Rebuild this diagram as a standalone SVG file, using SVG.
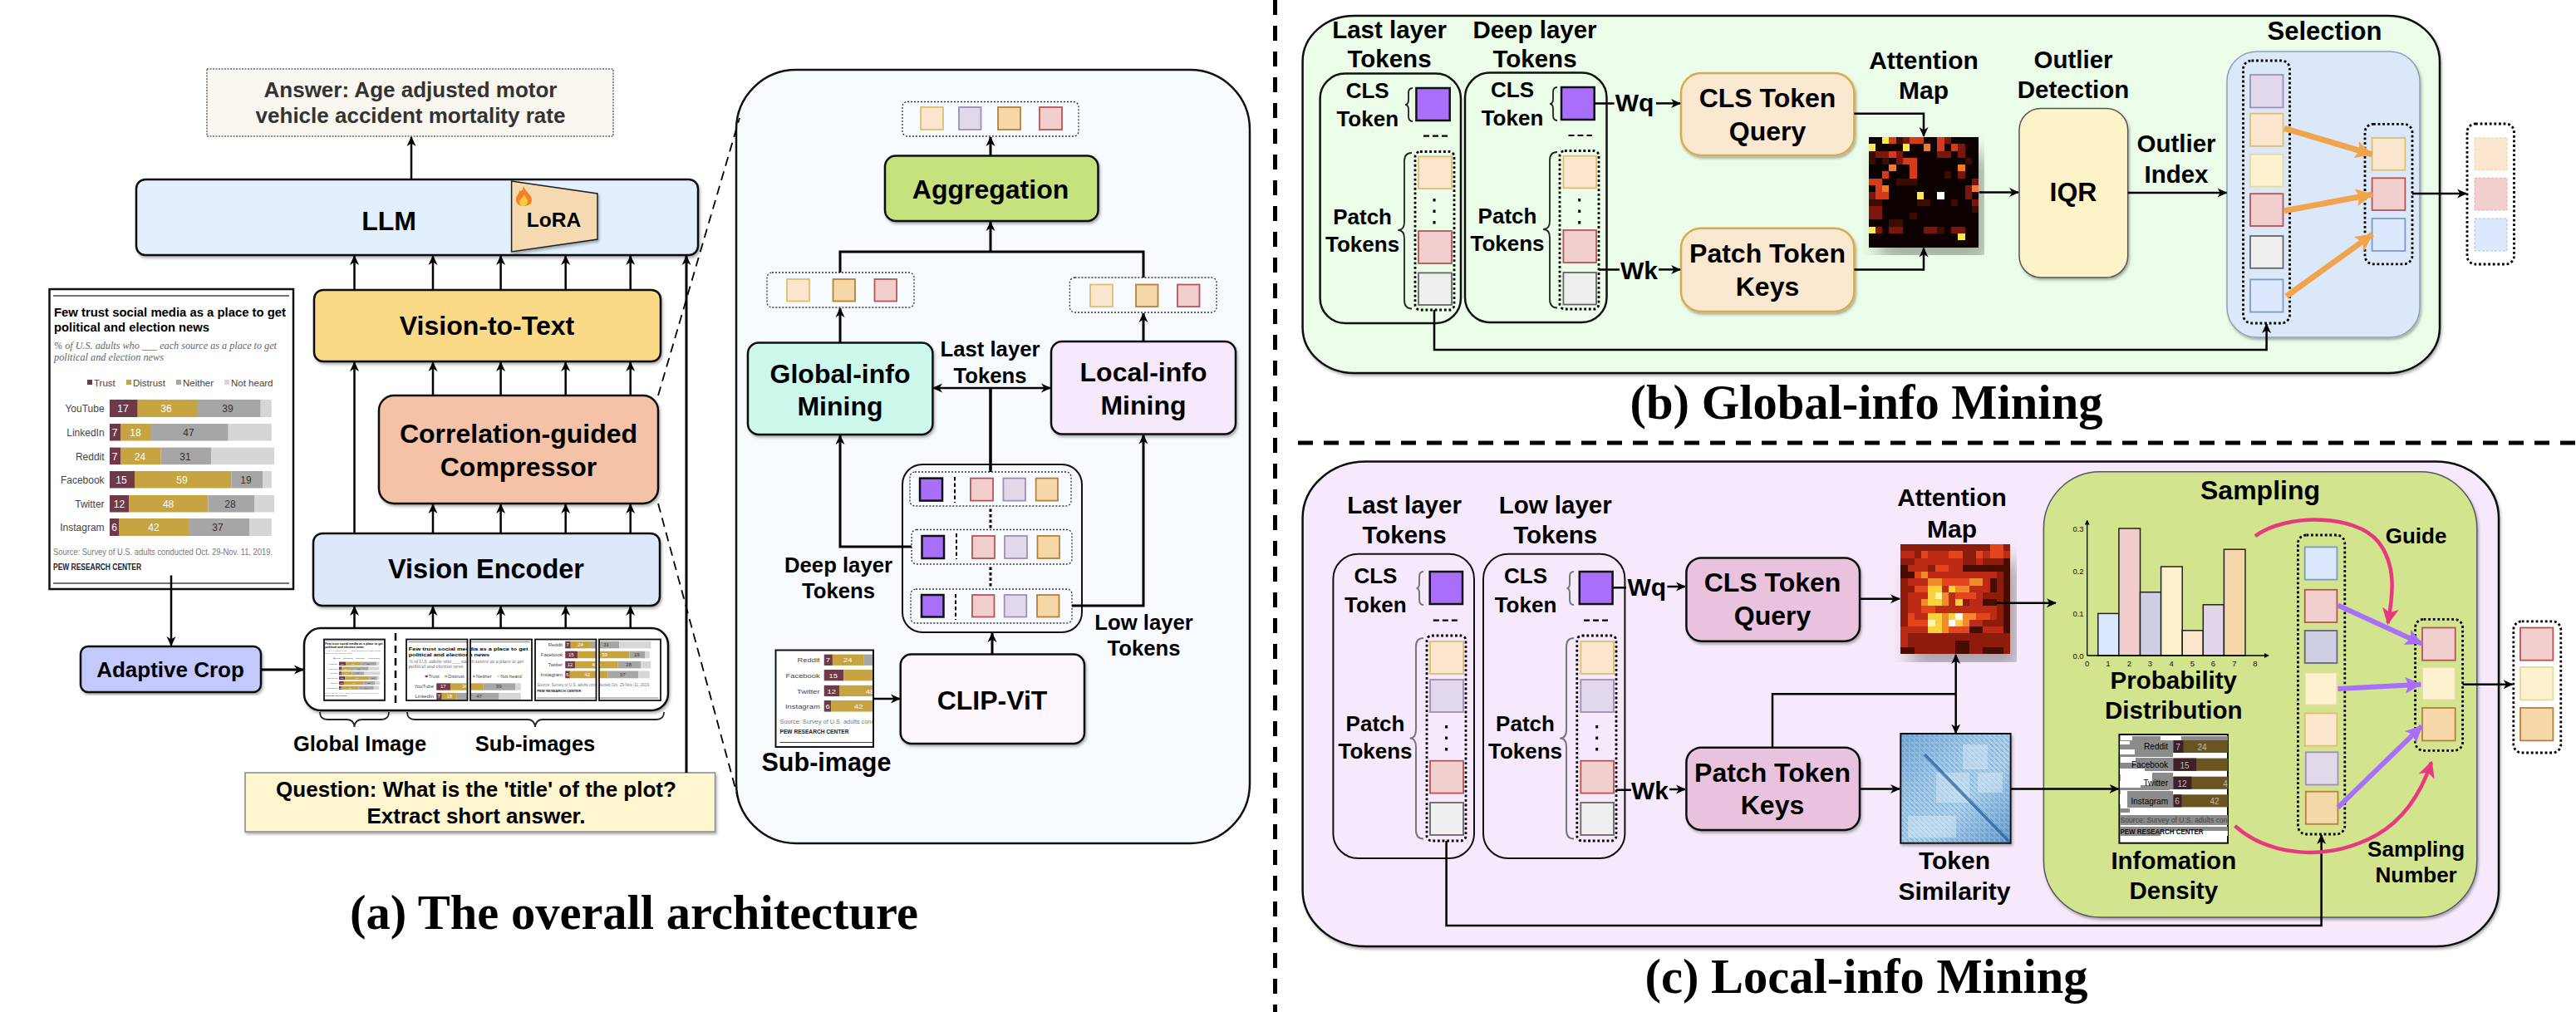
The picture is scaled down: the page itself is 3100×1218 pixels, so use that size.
<svg xmlns="http://www.w3.org/2000/svg" width="3100" height="1218" viewBox="0 0 3100 1218">
<style>
text{font-family:"Liberation Sans",Arial,sans-serif;font-weight:700;fill:#000;text-anchor:middle}
.s{filter:url(#sh)}
.box{stroke:#111;stroke-width:2.5}
.f24{font-size:24.5px}.f25{font-size:25.7px}.f26{font-size:26px}.f28{font-size:29.5px}.f29{font-size:29.5px}.f30{font-size:30px}.f31{font-size:32px}.f32{font-size:32px}
.cap{font-family:"Liberation Serif","Times New Roman",serif;font-size:58.5px}
.o{fill:#fbe7cf;stroke:#e3bd6c;stroke-width:1.8}.y{fill:#fdf2cf;stroke:#e8d9a0;stroke-width:1.8}.p{fill:#f2cfcf;stroke:#b85450;stroke-width:1.8}.l{fill:#e1d9ea;stroke:#9f8dbd;stroke-width:1.8}.t{fill:#f5d7a8;stroke:#b5813a;stroke-width:1.8}.g{fill:#eee;stroke:#666;stroke-width:1.8}.bl{fill:#dce8fb;stroke:#7f9ac9;stroke-width:1.8}.la{fill:#cfcfe3;stroke:#667;stroke-width:1.8}
.v{fill:#a96ffb;stroke:#111;stroke-width:2.5}
.dt{fill:none;stroke:#000;stroke-width:2.8;stroke-dasharray:2.8 2.8}
.dl{fill:none;stroke:#333;stroke-width:1.3;stroke-dasharray:2 2}
.br{fill:none;stroke:#222;stroke-width:1.8}
.brg{fill:none;stroke:#777;stroke-width:2}
.c{fill:none;stroke:#000;stroke-width:2.5}
.a{fill:none;stroke:#000;stroke-width:2.5;marker-end:url(#ar)}
.a3{fill:none;stroke:#000;stroke-width:3;marker-end:url(#ar)}
.cd{font-weight:400;font-size:12px;fill:#444;text-anchor:end}
.vw{font-weight:400;font-size:12px;fill:#fff}
.vd{font-weight:400;font-size:12px;fill:#333}
.lg{font-weight:400;font-size:11.5px;fill:#444;text-anchor:start}
.tk{font-size:9.5px;font-weight:400;fill:#111}
.im{stroke:#111;stroke-width:2.5;fill:#fff}
</style>
<defs>
<filter id="sh" x="-5%" y="-5%" width="110%" height="112%"><feDropShadow dx="1.5" dy="2.5" stdDeviation="1.5" flood-color="#000" flood-opacity=".3"/></filter>
<marker id="ar" viewBox="0 0 12 12" refX="11" refY="6" markerWidth="12" markerHeight="12" markerUnits="userSpaceOnUse" orient="auto-start-reverse"><path d="M0 .5L12 6L0 11.5L3.5 6z" fill="#000"/></marker>
<marker id="as" viewBox="0 0 6 6" refX="5" refY="3" markerWidth="6" markerHeight="6" markerUnits="userSpaceOnUse" orient="auto"><path d="M0 0L6 3L0 6z" fill="#000"/></marker>
<marker id="ao" viewBox="0 0 20 20" refX="19" refY="10" markerWidth="21" markerHeight="21" markerUnits="userSpaceOnUse" orient="auto"><path d="M0 0L20 10L0 20L4 10z" fill="#f0a44c"/></marker>
<marker id="ap" viewBox="0 0 20 20" refX="19" refY="10" markerWidth="20" markerHeight="20" markerUnits="userSpaceOnUse" orient="auto"><path d="M0 0L20 10L0 20L4 10z" fill="#a86ffb"/></marker>
<marker id="ak" viewBox="0 0 20 20" refX="18" refY="10" markerWidth="20" markerHeight="20" markerUnits="userSpaceOnUse" orient="auto"><path d="M0 0L20 10L0 20L5 10z" fill="#e6397f"/></marker>
<linearGradient id="simg" x1="0" y1="0" x2="1" y2="1"><stop offset="0" stop-color="#6fa2d0"/><stop offset=".35" stop-color="#9cc3e2"/><stop offset=".6" stop-color="#a9cde7"/><stop offset="1" stop-color="#5e95c8"/></linearGradient>
<pattern id="hatch" width="6" height="6" patternUnits="userSpaceOnUse"><rect width="6" height="6" fill="none" stroke="#e6f2fb" stroke-width=".5" opacity=".6"/><path d="M0 0L6 6M-3 3L3 9M3 -3L9 3" stroke="#2f6fad" stroke-width=".9" opacity=".45"/></pattern>
</defs>
<rect width="3100" height="1218" fill="#fff"/>

<g id="panel-detail"><rect x="886" y="84" width="618" height="931" rx="72" ry="72" fill="#f7fbff" stroke="#111" stroke-width="2.5"/></g>
<g id="panel-b"><rect class="s box" x="1567.6" y="19" width="1368.4" height="430" rx="62" ry="55" fill="#ebfde9"/></g>
<g id="panel-c"><rect class="s box" x="1567.6" y="555.6" width="1439.4" height="583.4" rx="76" ry="68" fill="#f6e9fb"/></g>

<g id="separators" fill="none" stroke="#000" stroke-width="5" stroke-dasharray="18 13"><path d="M1534.5 0V1218"/><path d="M1562 533H3100"/></g>

<!-- (a) -->
<g id="answer"><rect x="249" y="83" width="489" height="81" fill="#faf6f0" stroke="#666" stroke-width="1.5" stroke-dasharray="2 1.5"/><text x="494" y="117" style="fill:#333;font-size:26px">Answer: Age adjusted motor</text><text x="494" y="148" style="fill:#333;font-size:26px">vehicle accident mortality rate</text></g>
<g id="llm"><rect class="s box" x="164" y="216" width="676" height="91" rx="11" fill="#e2f0fd"/><text class="f32" x="468" y="277">LLM</text></g>
<g id="lora"><path class="s" d="M615.6 218L719 233V288L615.6 303z" fill="#f5d9b0" stroke="#222" stroke-width="1.5"/><text class="f24" x="666.5" y="272.5">LoRA</text>
<path d="M630 224C633 232 640 234 640 241C640 246 635 248 630 248C625 248 621 245 621 240C621 235 625 234 625 229C627 231 629 230 630 224z" fill="#f0822a"/><path d="M631 234C632 238 636 240 635 243C634 247 632 248 630 248C627 248 625 246 625 243C625 240 629 239 631 234z" fill="#fbc93c"/></g>
<g id="vision-to-text"><rect class="s box" x="378" y="349" width="417" height="86" rx="11" fill="#fad987"/><text class="f31" x="586" y="403">Vision-to-Text</text></g>
<g id="compressor"><rect class="s box" x="456" y="476" width="336" height="130" rx="18" fill="#f4c2a7"/><text class="f31" x="624" y="533">Correlation-guided</text><text class="f31" x="624" y="572.5">Compressor</text></g>
<g id="vision-encoder"><rect class="s box" x="377" y="642" width="417" height="87" rx="11" fill="#dde8fb"/><text x="585" y="696" style="font-size:32.5px">Vision Encoder</text></g>
<g id="adaptive-crop"><rect class="s box" x="97" y="778" width="217" height="55" rx="9" fill="#c3c8fd"/><text class="f26" x="205" y="814.5">Adaptive Crop</text></g>

<g id="chart"><rect x="59.5" y="348" width="293.5" height="361" fill="#fff" stroke="#111" stroke-width="2.5"/>
<g id="chart-content">
<path d="M64 356H348M64 702H348" stroke="#444" stroke-width="1.6"/>
<g style="text-anchor:start">
<text x="65" y="381" textLength="279" lengthAdjust="spacingAndGlyphs" style="font-size:14.5px;text-anchor:start">Few trust social media as a place to get</text>
<text x="65" y="399" textLength="187" lengthAdjust="spacingAndGlyphs" style="font-size:14.5px;text-anchor:start">political and election news</text>
<text x="65" y="420" textLength="268" lengthAdjust="spacingAndGlyphs" style="font-family:'Liberation Serif',serif;font-style:italic;font-weight:400;font-size:13.5px;fill:#666;text-anchor:start">% of U.S. adults who ___ each source as a place to get</text>
<text x="65" y="434" textLength="132" lengthAdjust="spacingAndGlyphs" style="font-family:'Liberation Serif',serif;font-style:italic;font-weight:400;font-size:13.5px;fill:#666;text-anchor:start">political and election news</text></g>
<rect x="105" y="457" width="6" height="6" fill="#6e3a48"/><text class="lg" x="113" y="465">Trust</text>
<rect x="152" y="457" width="6" height="6" fill="#c5a441"/><text class="lg" x="160" y="465">Distrust</text>
<rect x="212" y="457" width="6" height="6" fill="#a6a6a6"/><text class="lg" x="220" y="465">Neither</text>
<rect x="270" y="457" width="6" height="6" fill="#d6d6d6"/><text class="lg" x="278" y="465">Not heard</text>
<g fill="#6e3a48"><rect x="132" y="481" width="33.7" height="21"/><rect x="132" y="510" width="13" height="20.5"/><rect x="132" y="538.6" width="13" height="20.5"/><rect x="132" y="567" width="30" height="20.5"/><rect x="132" y="596" width="23.4" height="20.5"/><rect x="132" y="624" width="11" height="21"/></g>
<g fill="#c5a441"><rect x="165.7" y="481" width="71.3" height="21"/><rect x="145" y="510" width="36" height="20.5"/><rect x="145" y="538.6" width="48.4" height="20.5"/><rect x="162" y="567" width="116.5" height="20.5"/><rect x="155.4" y="596" width="94.9" height="20.5"/><rect x="143" y="624" width="84" height="21"/></g>
<g fill="#a6a6a6"><rect x="237" y="481" width="76.7" height="21"/><rect x="181" y="510" width="93.7" height="20.5"/><rect x="193.4" y="538.6" width="60.6" height="20.5"/><rect x="278.5" y="567" width="37.5" height="20.5"/><rect x="250.3" y="596" width="55.7" height="20.5"/><rect x="227" y="624" width="73" height="21"/></g>
<g fill="#d6d6d6"><rect x="313.7" y="481" width="13" height="21"/><rect x="274.7" y="510" width="52" height="20.5"/><rect x="254" y="538.6" width="76" height="20.5"/><rect x="316" y="567" width="10.7" height="20.5"/><rect x="306" y="596" width="24" height="20.5"/><rect x="300" y="624" width="26.7" height="21"/></g>
<text class="cd" x="125.6" y="496">YouTube</text><text class="cd" x="125.6" y="525">LinkedIn</text><text class="cd" x="125.6" y="553.5">Reddit</text><text class="cd" x="125.6" y="582">Facebook</text><text class="cd" x="125.6" y="611">Twitter</text><text class="cd" x="125.6" y="639">Instagram</text>
<text class="vw" x="148" y="496">17</text><text class="vw" x="200" y="496">36</text><text class="vd" x="274" y="496">39</text>
<text class="vw" x="138" y="525">7</text><text class="vw" x="163" y="525">18</text><text class="vd" x="227" y="525">47</text>
<text class="vw" x="138" y="553.5">7</text><text class="vw" x="168.5" y="553.5">24</text><text class="vd" x="223" y="553.5">31</text>
<text class="vw" x="146" y="582">15</text><text class="vw" x="219" y="582">59</text><text class="vd" x="296" y="582">19</text>
<text class="vw" x="143.5" y="611">12</text><text class="vw" x="202.6" y="611">48</text><text class="vd" x="277" y="611">28</text>
<text class="vw" x="137.5" y="639">6</text><text class="vw" x="185" y="639">42</text><text class="vd" x="262" y="639">37</text>
<text x="64" y="668" textLength="264" lengthAdjust="spacingAndGlyphs" style="font-weight:400;font-size:11.5px;fill:#777;text-anchor:start">Source: Survey of U.S. adults conducted Oct. 29-Nov. 11, 2019.</text>
<text x="64" y="686" textLength="106" lengthAdjust="spacingAndGlyphs" style="font-size:10.5px;fill:#222;text-anchor:start">PEW RESEARCH CENTER</text>
</g></g>

<g id="images"><rect class="s" x="366" y="756" width="438" height="99" rx="20" fill="#fff" stroke="#111" stroke-width="2.5"/>
<svg x="390" y="769.5" width="73" height="73.5" viewBox="59.5 348 293.5 361" preserveAspectRatio="none"><use href="#chart-content"/></svg><rect x="390" y="769.5" width="73" height="73.5" fill="none" stroke="#111" stroke-width="1.8"/>
<path d="M476 762V848" stroke="#000" stroke-width="2.5" stroke-dasharray="9 6"/>
<svg x="489" y="769.5" width="73.5" height="73.5" viewBox="59.5 348 147 185" preserveAspectRatio="none"><use href="#chart-content"/></svg><rect x="489" y="769.5" width="73.5" height="73.5" fill="none" stroke="#111" stroke-width="1.8"/>
<svg x="566" y="769.5" width="74" height="73.5" viewBox="206 348 147 185" preserveAspectRatio="none"><use href="#chart-content"/></svg><rect x="566" y="769.5" width="74" height="73.5" fill="none" stroke="#111" stroke-width="1.8"/>
<svg x="644" y="769.5" width="73.5" height="73.5" viewBox="59.5 533 147 176" preserveAspectRatio="none"><use href="#chart-content"/></svg><rect x="644" y="769.5" width="73.5" height="73.5" fill="none" stroke="#111" stroke-width="1.8"/>
<svg x="721" y="769.5" width="74" height="73.5" viewBox="206 533 147 176" preserveAspectRatio="none"><use href="#chart-content"/></svg><rect x="721" y="769.5" width="74" height="73.5" fill="none" stroke="#111" stroke-width="1.8"/>
<path class="br" d="M385 857Q385 866 394 866H417Q426 866 426.5 875Q427 866 436 866H459Q468 866 468 857"/>
<path class="br" d="M490 857Q490 866 499 866H635Q643 866 644 875Q645 866 653 866H790Q799 866 799 857"/>
<text x="433" y="904" style="font-size:25.5px">Global Image</text><text x="644" y="904" style="font-size:25.5px">Sub-images</text></g>
<g id="question"><rect class="s" x="295" y="930" width="565.6" height="71" fill="#fdf6cf" stroke="#888" stroke-width="1.5"/><text x="573" y="959" style="font-size:26px">Question: What is the 'title' of the plot?</text><text x="573" y="991" style="font-size:26px">Extract short answer.</text></g>
<text class="cap" x="763" y="1118">(a) The overall architecture</text>

<!-- detail -->
<g id="tokens-top"><rect class="dl" x="1086" y="122.5" width="212" height="41.5" rx="6"/><rect class="o" x="1108" y="129" width="27" height="27"/><rect class="l" x="1154" y="129" width="26.5" height="27"/><rect class="t" x="1201" y="129" width="27" height="27"/><rect class="p" x="1251" y="129" width="27" height="27"/></g>
<g id="aggregation"><rect class="s box" x="1065" y="187.5" width="256.5" height="78.5" rx="13" fill="#c5e17c"/><text class="f31" x="1192" y="239">Aggregation</text></g>
<g id="tokens-left"><rect class="dl" x="923" y="328" width="177" height="42" rx="6"/><rect class="o" x="947" y="336" width="27" height="26.5"/><rect class="t" x="1002.5" y="336" width="26.5" height="26.5"/><rect class="p" x="1052.5" y="336" width="26.5" height="26.5"/></g>
<g id="tokens-right"><rect class="dl" x="1287.4" y="334" width="176.6" height="42" rx="6"/><rect class="o" x="1312" y="342.5" width="27" height="26.5"/><rect class="t" x="1367" y="342.5" width="26.5" height="26.5"/><rect class="p" x="1417" y="342.5" width="26.5" height="26.5"/></g>
<g id="global-info"><rect class="s box" x="900" y="412.5" width="222.4" height="110.5" rx="13" fill="#cdf8ec"/><text class="f31" x="1011" y="460.6">Global-info</text><text class="f31" x="1011" y="500">Mining</text></g>
<g id="local-info"><rect class="s box" x="1265" y="411" width="222" height="111.5" rx="13" fill="#f5e9fb"/><text class="f31" x="1376" y="459">Local-info</text><text class="f31" x="1376" y="499">Mining</text></g>
<g id="last-label"><text class="f25" x="1191.5" y="429">Last layer</text><text class="f25" x="1191.5" y="460.6">Tokens</text></g>
<g id="layers"><rect x="1086" y="559" width="216" height="202" rx="24" fill="none" stroke="#111" stroke-width="2"/>
<rect class="dl" x="1095" y="568" width="194" height="41" rx="6"/><rect class="v" x="1107" y="575.6" width="27" height="27"/><path d="M1149 574V605M1151 642V673M1150 715V746" stroke="#000" stroke-width="2" stroke-dasharray="4.5 3"/><rect class="p" x="1168" y="575.6" width="27" height="27"/><rect class="l" x="1207.4" y="575.6" width="26.6" height="27"/><rect class="t" x="1246.6" y="575.6" width="26.4" height="27"/>
<rect class="dl" x="1097" y="637.5" width="193" height="41.5" rx="6"/><rect class="v" x="1109.5" y="645" width="26.5" height="27"/><rect class="p" x="1170" y="645" width="27" height="27"/><rect class="l" x="1209" y="645" width="27" height="27"/><rect class="t" x="1248.5" y="645" width="26.5" height="27"/>
<rect class="dl" x="1096" y="709" width="194" height="41" rx="6"/><rect class="v" x="1109" y="716" width="26.5" height="26.5"/><rect class="p" x="1170" y="716" width="26.5" height="26.5"/><rect class="l" x="1208.7" y="716" width="26.6" height="26.5"/><rect class="t" x="1248" y="716" width="26.5" height="26.5"/>
<path d="M1192 612.5V636M1192 682.5V706" stroke="#000" stroke-width="3" stroke-dasharray="3.5 3"/></g>
<g id="deep-label"><text class="f25" x="1009" y="689">Deep layer</text><text class="f25" x="1009" y="720">Tokens</text></g>
<g id="low-label"><text class="f25" x="1376.6" y="757.5">Low layer</text><text class="f25" x="1376.6" y="789">Tokens</text></g>
<g id="clip-vit"><rect class="s box" x="1083.7" y="787.5" width="221.3" height="107.5" rx="13" fill="#fdf7fd"/><text class="f31" x="1194" y="854">CLIP-ViT</text></g>
<g id="sub-image"><rect x="933.5" y="782.5" width="117.5" height="116.5" fill="#fff" stroke="#111" stroke-width="2"/><svg x="935" y="784" width="115" height="114" viewBox="59.5 533 147 176" preserveAspectRatio="none"><use href="#chart-content"/></svg><text x="994.5" y="927.5" style="font-size:30.5px">Sub-image</text></g>
<text class="cap" x="2246" y="504">(b) Global-info Mining</text>

<!-- (b) -->
<g id="b-last"><text class="f28" x="1672" y="46">Last layer</text><text class="f28" x="1672" y="81">Tokens</text>
<rect x="1588.6" y="88.6" width="169.4" height="300.4" rx="30" fill="none" stroke="#111" stroke-width="2.5"/>
<text class="f26" x="1645.7" y="117.8">CLS</text><text class="f26" x="1645.7" y="152">Token</text>
<rect class="v" x="1704.4" y="106" width="40.3" height="39"/><path class="br" d="M1700 106Q1695 106 1695 112V120Q1695 126 1691 126Q1695 126 1695 132V140Q1695 146 1700 146"/>
<path d="M1713 163.6H1742" stroke="#000" stroke-width="2.2" stroke-dasharray="7 4"/>
<rect class="dt" x="1703" y="182.5" width="47" height="190.5" rx="6"/>
<rect class="o" x="1707" y="188.4" width="40" height="38.6"/><path d="M1726 239V270" stroke="#000" stroke-width="3" stroke-dasharray="3.5 10"/><rect class="p" x="1707" y="278" width="40" height="39"/><rect class="g" x="1707" y="328.4" width="40" height="38.6"/>
<path class="br" d="M1699 184Q1690 184 1690 194V267Q1690 277 1682.4 277Q1690 277 1690 287V361Q1690 371.5 1699 371.5"/>
<text class="f26" x="1639.6" y="269.7">Patch</text><text class="f26" x="1639.6" y="302.5">Tokens</text></g>
<g id="b-deep"><text class="f28" x="1847" y="46">Deep layer</text><text class="f28" x="1847" y="81">Tokens</text>
<rect x="1763" y="87.6" width="170.5" height="300.4" rx="30" fill="none" stroke="#111" stroke-width="2.5"/>
<text class="f26" x="1820" y="117">CLS</text><text class="f26" x="1820" y="151">Token</text>
<rect class="v" x="1879" y="105" width="39.7" height="39"/><path class="br" d="M1874 105Q1869 105 1869 111V119Q1869 125 1865 125Q1869 125 1869 131V139Q1869 145 1874 145"/>
<path d="M1887.5 163H1916" stroke="#000" stroke-width="2.2" stroke-dasharray="7 4"/>
<rect class="dt" x="1877" y="181.5" width="47" height="190.5" rx="6"/>
<rect class="o" x="1881.4" y="187.7" width="39.6" height="38.6"/><path d="M1900.7 239V270" stroke="#000" stroke-width="3" stroke-dasharray="3.5 10"/><rect class="p" x="1881.4" y="277" width="39.6" height="39"/><rect class="g" x="1881.4" y="328" width="39.6" height="38.5"/>
<path class="br" d="M1874 183Q1865 183 1865 193V266Q1865 276 1857 276Q1865 276 1865 286V360Q1865 370.5 1874 370.5"/>
<text class="f26" x="1814" y="268.7">Patch</text><text class="f26" x="1814" y="302">Tokens</text></g>
<g id="b-wq"><text class="f30" x="1967" y="134.4">Wq</text></g><g id="b-wk"><text class="f30" x="1972.5" y="335.7">Wk</text></g>
<g id="b-cls-query"><rect class="s" x="2023" y="88" width="208.4" height="99" rx="24" fill="#fbe8d0" stroke="#d4ab53" stroke-width="2.5"/><text class="f32" x="2127" y="128.7">CLS Token</text><text class="f32" x="2127" y="168.5">Query</text></g>
<g id="b-patch-keys"><rect class="s" x="2023" y="274.7" width="208.4" height="100.3" rx="24" fill="#fbe8d0" stroke="#d4ab53" stroke-width="2.5"/><text class="f32" x="2127" y="315.8">Patch Token</text><text class="f32" x="2127" y="355.6">Keys</text></g>
<g id="b-attention"><text class="f30" x="2315" y="83">Attention</text><text class="f30" x="2315" y="118.8">Map</text>
<svg x="2248" y="165" width="133.6" height="132.6" viewBox="0 0 16 16" shape-rendering="crispEdges" class="s"><rect width="16" height="16" fill="#0d0000"/>
<path fill="#3a0806" d="M0 2h1v2h-1zM2 3h1v1h-1zM4 0h2v1h-2zM4 6h3v1h-3zM0 9h2v2h-2zM11 5h1v1h-1zM12 9h1v1h-1zM15 10h1v1h-1zM7 9h2v1h-2zM3 12h2v1h-2zM9 13h2v1h-2zM14 3h1v1h-1zM6 11h1v1h-1z"/>
<path fill="#7c170e" d="M0 10h2v2h-2zM1 13h1v1h-1zM3 13h2v1h-2zM8 13h2v1h-2zM1 2h2v1h-2zM4 2h1v2h-1zM13 1h1v2h-1zM10 2h2v1h-2zM13 5h1v1h-1zM15 6h1v1h-1zM14 7h1v2h-1zM15 9h1v1h-1zM12 13h2v1h-2zM5 0h1v1h-1zM11 0h1v1h-1zM0 8h1v1h-1z"/>
<path fill="#d43a1c" d="M3 0h1v1h-1zM6 0h2v1h-2zM10 0h1v2h-1zM3 2h1v1h-1zM5 3h2v1h-2zM6 4h1v2h-1zM0 6h2v1h-2zM1 7h1v2h-1zM2 8h1v1h-1zM2 5h1v1h-1zM12 1h1v1h-1z"/>
<path fill="#f0792a" d="M8 1h1v1h-1zM3 4h1v1h-1zM2 7h1v1h-1zM13 4h1v1h-1zM15 7h1v1h-1z"/>
<path fill="#ffe84a" d="M2 0h1v1h-1zM0 1h1v1h-1zM5 1h1v1h-1zM7 8h1v1h-1zM0 13h1v1h-1zM13 14h1v1h-1z"/>
<path fill="#fff" d="M10 8h1v1h-1z"/></svg></g>
<g id="b-outlier"><text class="f29" x="2495" y="82">Outlier</text><text class="f29" x="2495" y="118">Detection</text></g>
<g id="b-iqr"><rect class="s" x="2430" y="130.4" width="130.7" height="203.6" rx="26" fill="#fdf3c8" stroke="#555" stroke-width="1.5"/><text class="f32" x="2495" y="242">IQR</text></g>
<g id="b-index"><text class="f29" x="2619" y="183">Outlier</text><text class="f29" x="2619" y="220">Index</text></g>
<g id="b-selection"><text x="2797.5" y="48" style="font-size:31px">Selection</text><rect class="s" x="2680" y="62" width="232" height="344" rx="36" fill="#dbe8fa" stroke="#8aa0b8" stroke-width="1.5"/>
<rect class="dt" x="2699.5" y="73" width="56" height="316" rx="10"/>
<rect class="l" x="2708" y="90" width="39.5" height="39.4"/><rect class="o" x="2708" y="136.7" width="39.5" height="39.1"/><rect class="y" x="2708" y="185.8" width="39.5" height="38.8"/><rect class="p" x="2708" y="233.2" width="39.5" height="38.8"/><rect class="g" x="2708" y="284" width="39.5" height="38.8"/><rect class="bl" x="2708" y="336.4" width="39.5" height="39.1"/>
<rect class="dt" x="2846" y="149.3" width="57" height="168.5" rx="10"/>
<rect class="o" x="2854.6" y="165.9" width="39.8" height="38.8"/><rect class="p" x="2854.6" y="214.3" width="39.8" height="38.7"/><rect class="bl" x="2854.6" y="263" width="39.8" height="39"/></g>
<g id="b-output"><rect class="dt" x="2969" y="149" width="56.5" height="169" rx="10"/>
<rect x="2978" y="165.9" width="39" height="38.8" fill="#fbe7cf" stroke="#ecd09a" stroke-dasharray="3 2"/><rect x="2978" y="214.3" width="39" height="38.7" fill="#f2cfcf" stroke="#e4a8a8" stroke-dasharray="3 2"/><rect x="2978" y="263" width="39" height="39" fill="#dce8fb" stroke="#a9c0e6" stroke-dasharray="3 2"/></g>
<text class="cap" x="2246" y="1195">(c) Local-info Mining</text>

<!-- (c) -->
<g id="c-last"><text class="f28" x="1690" y="617.8">Last layer</text><text class="f28" x="1690" y="653.7">Tokens</text>
<rect x="1604.4" y="666.7" width="169.6" height="366.3" rx="30" fill="none" stroke="#111" stroke-width="2"/>
<text class="f26" x="1655.4" y="702">CLS</text><text class="f26" x="1655.4" y="736.7">Token</text>
<rect class="v" x="1720.7" y="688" width="39.3" height="39"/><path class="brg" d="M1713 688Q1708 688 1708 694V702Q1708 708 1704.5 708Q1708 708 1708 714V722Q1708 728 1713 728"/>
<path d="M1724.8 746.7H1754.4" stroke="#000" stroke-width="2.2" stroke-dasharray="7 4"/>
<rect class="dt" x="1717" y="765" width="47" height="247" rx="6"/>
<rect class="o" x="1721" y="772" width="40" height="39"/><rect class="l" x="1721" y="818" width="40" height="39"/><path d="M1740.6 873V906" stroke="#000" stroke-width="3" stroke-dasharray="3.5 10"/><rect class="p" x="1721" y="915.7" width="40" height="38.9"/><rect class="g" x="1721" y="966" width="40" height="39"/>
<path class="brg" d="M1713 768Q1704 768 1704 778V878Q1704 888.5 1696.7 888.5Q1704 888.5 1704 899V999Q1704 1009.5 1713 1009.5"/>
<text class="f26" x="1655" y="880">Patch</text><text class="f26" x="1655" y="912.7">Tokens</text></g>
<g id="c-low"><text class="f28" x="1871.7" y="617.8">Low layer</text><text class="f28" x="1871.7" y="653.7">Tokens</text>
<rect x="1785" y="666.7" width="170.4" height="366.3" rx="30" fill="none" stroke="#111" stroke-width="2"/>
<text class="f26" x="1836" y="702">CLS</text><text class="f26" x="1836" y="736.7">Token</text>
<rect class="v" x="1900.8" y="688" width="39.8" height="39"/><path class="brg" d="M1894 688Q1889 688 1889 694V702Q1889 708 1885.5 708Q1889 708 1889 714V722Q1889 728 1894 728"/>
<path d="M1906 746.7H1935.5" stroke="#000" stroke-width="2.2" stroke-dasharray="7 4"/>
<rect class="dt" x="1897.8" y="765" width="47.2" height="247" rx="6"/>
<rect class="o" x="1902.3" y="772" width="39.7" height="39"/><rect class="l" x="1902.3" y="818" width="39.7" height="39"/><path d="M1921.7 873V906" stroke="#000" stroke-width="3" stroke-dasharray="3.5 10"/><rect class="p" x="1902.3" y="915.7" width="39.7" height="38.9"/><rect class="g" x="1902.3" y="966" width="39.7" height="39"/>
<path class="brg" d="M1894 768Q1885 768 1885 778V878Q1885 888.5 1877.3 888.5Q1885 888.5 1885 899V999Q1885 1009.5 1894 1009.5"/>
<text class="f26" x="1835.5" y="880">Patch</text><text class="f26" x="1835.5" y="912.7">Tokens</text></g>
<g id="c-wq"><text class="f30" x="1981.7" y="717">Wq</text></g><g id="c-wk"><text class="f30" x="1985.5" y="961.5">Wk</text></g>
<g id="c-cls-query"><rect class="s box" x="2029.4" y="671.4" width="208.6" height="100.3" rx="18" fill="#e9c2de"/><text class="f32" x="2133" y="711.6">CLS Token</text><text class="f32" x="2133" y="751.8">Query</text></g>
<g id="c-patch-keys"><rect class="s box" x="2029.4" y="899.7" width="208.6" height="99.3" rx="18" fill="#e9c2de"/><text class="f32" x="2133" y="941">Patch Token</text><text class="f32" x="2133" y="980">Keys</text></g>
<g id="c-attention"><text class="f30" x="2349" y="609.4">Attention</text><text class="f30" x="2349" y="647">Map</text>
<svg x="2287.3" y="655" width="132.3" height="132" viewBox="0 0 16 16" shape-rendering="crispEdges" class="s"><rect width="16" height="16" fill="#bd2a12"/>
<path fill="#8e1a0c" d="M0 0h16v1h-16zM2 1h2v1h-2zM9 1h2v2h-2zM0 2h2v1h-2zM4 3h1v1h-1zM12 2h3v1h-3zM0 5h1v7h-1zM1 6h1v1h-1zM1 13h15v3h-15zM7 13h3v1h-3zM12 7h2v1h-2zM9 7h1v2h-1zM14 4h1v8h-1zM12 11h2v1h-2z"/>
<path fill="#4a0b05" d="M0 3h1v2h-1zM1 4h1v1h-1zM9 3h3v1h-3zM12 3h3v1h-3zM15 2h1v11h-1zM12 8h2v1h-2zM13 5h1v2h-1zM8 14h2v2h-2zM10 12h2v1h-2zM0 15h2v1h-2zM12 15h3v1h-3z"/>
<path fill="#e4451e" d="M2 4h2v1h-2zM5 3h2v1h-2zM2 6h2v1h-2zM3 9h2v1h-2zM6 5h4v1h-4zM8 7h3v1h-3zM10 10h3v1h-3zM2 11h2v1h-2zM6 12h4v1h-4zM1 10h1v2h-1zM3 1h1v1h-1zM7 1h2v1h-2zM13 0h2v2h-2zM11 1h1v1h-1z"/>
<path fill="#f08a2a" d="M3 4h1v1h-1zM4 5h2v1h-2zM8 6h2v1h-2zM6 7h1v2h-1zM10 5h2v1h-2zM9 10h2v1h-2zM9 11h1v1h-1zM6 10h1v3h-1zM5 12h1v1h-1zM3 8h1v1h-1z"/>
<path fill="#fbd23a" d="M4 6h2v3h-2zM7 6h1v1h-1zM8 8h1v1h-1zM4 10h2v3h-2zM7 10h1v1h-1zM8 11h1v1h-1z"/>
<path fill="#fff6a8" d="M5 7h1v1h-1zM4 11h1v1h-1z"/>
<path fill="#fff" d="M7 11h1v1h-1zM8 10h1v1h-1z"/></svg></g>
<g id="c-similarity"><g class="s"><rect x="2287.3" y="883" width="132.3" height="131.7" fill="url(#simg)" stroke="#111" stroke-width="2"/></g>
<rect x="2288.3" y="884" width="130.3" height="129.7" fill="url(#hatch)"/>
<path d="M2330 930h40v36h-40zM2362 896h30v30h-30zM2296 982h58v26h-58zM2380 930h30v24h-30z" fill="#e6f2fb" opacity=".4"/>
<path d="M2316 908L2418 1013" stroke="#1f5c9c" stroke-width="3.5" opacity=".7"/>
<text class="f30" x="2352" y="1046">Token</text><text class="f30" x="2352" y="1083">Similarity</text></g>
<g id="c-sampling"><rect class="s" x="2459.4" y="567.8" width="521.4" height="536.2" rx="68" fill="#d2e58e" stroke="#556" stroke-width="1.5"/><text class="f32" x="2720" y="601">Sampling</text></g>
<g id="c-chart">
<g stroke="#222" stroke-width="1.5"><rect x="2524.8" y="738.4" width="25.1" height="50.6" fill="#dae8fc"/><rect x="2549.9" y="636" width="25.6" height="153" fill="#f0cdca"/><rect x="2575.5" y="712.7" width="25.1" height="76.3" fill="#cfcfe3"/><rect x="2600.6" y="682" width="25.6" height="107" fill="#fdf2cc"/><rect x="2626.2" y="758.8" width="25.1" height="30.2" fill="#fde7cc"/><rect x="2651.3" y="727.8" width="25.1" height="61.2" fill="#e1d5e7"/><rect x="2676.4" y="661.2" width="25.6" height="127.8" fill="#f5d7a9"/></g>
<path d="M2511.7 789H2729.8" stroke="#000" stroke-width="1.3" fill="none" marker-end="url(#as)"/><path d="M2511.7 789V626.5" stroke="#000" stroke-width="1.3" fill="none" marker-end="url(#as)"/>
<g><text class="tk" x="2511.7" y="802">0</text><text class="tk" x="2536.8" y="802">1</text><text class="tk" x="2562.4" y="802">2</text><text class="tk" x="2587.5" y="802">3</text><text class="tk" x="2613.1" y="802">4</text><text class="tk" x="2638.3" y="802">5</text><text class="tk" x="2663.4" y="802">6</text><text class="tk" x="2689" y="802">7</text><text class="tk" x="2714" y="802">8</text>
<text class="tk" x="2501" y="792.5">0.0</text><text class="tk" x="2501" y="741.5">0.1</text><text class="tk" x="2501" y="690.5">0.2</text><text class="tk" x="2501" y="639.5">0.3</text></g>
<text class="f29" x="2615.8" y="829">Probability</text><text class="f29" x="2615.8" y="865">Distribution</text></g>
<g id="c-density"><rect x="2550.4" y="884" width="130.6" height="130.7" fill="#fff" stroke="#111" stroke-width="2"/>
<path fill="#8b8b8b" d="M2566 886h34v5h-34zM2625 886h56v5h-56zM2551 891h64v20h-64zM2570 912h45v16h-45zM2551 918h64v10h-64zM2590 930h25v20h-25zM2551 945h60v6h-60zM2560 952h55v20h-55zM2551 973h12v5h-12zM2551 981h130v12h-130zM2551 995h130v11h-130z"/>
<path fill="#fff" d="M2551 892h12v4h-12zM2551 902h18v6h-18zM2551 925h30v7h-30zM2551 940h25v8h-25zM2551 956h8v12h-8zM2600 1000h81v6h-81z"/>
<rect x="2615.4" y="891" width="65.6" height="15" fill="#6a5520"/><rect x="2615.4" y="912.6" width="65.6" height="15.2" fill="#6a5520"/><rect x="2615.4" y="934.7" width="65.6" height="15.1" fill="#6a5520"/><rect x="2615.4" y="956.3" width="65.6" height="15.1" fill="#6a5520"/>
<g fill="#3e2028"><rect x="2615.4" y="891" width="12" height="15"/><rect x="2615.4" y="912.6" width="27.7" height="15.2"/><rect x="2615.4" y="934.7" width="22" height="15.1"/><rect x="2615.4" y="956.3" width="10" height="15.1"/></g>
<g><text x="2609" y="902" style="font-weight:400;font-size:10px;text-anchor:end">Reddit</text><text x="2609" y="924" style="font-weight:400;font-size:10px;text-anchor:end">Facebook</text><text x="2609" y="946" style="font-weight:400;font-size:10px;text-anchor:end">Twitter</text><text x="2609" y="967.5" style="font-weight:400;font-size:10px;text-anchor:end">Instagram</text></g>
<g><text x="2621" y="903" style="font-weight:400;font-size:10px;fill:#bbb">7</text><text x="2650" y="903" style="font-weight:400;font-size:10px;fill:#bbb">24</text><text x="2629" y="925" style="font-weight:400;font-size:10px;fill:#bbb">15</text><text x="2626" y="947" style="font-weight:400;font-size:10px;fill:#bbb">12</text><text x="2678" y="947" style="font-weight:400;font-size:10px;fill:#bbb">4</text><text x="2620" y="968" style="font-weight:400;font-size:10px;fill:#bbb">6</text><text x="2665" y="968" style="font-weight:400;font-size:10px;fill:#bbb">42</text></g>
<text x="2551.5" y="990" textLength="129" lengthAdjust="spacingAndGlyphs" style="font-weight:400;font-size:9px;fill:#444;text-anchor:start">Source: Survey of U.S. adults con</text>
<text x="2551.5" y="1004" textLength="100" lengthAdjust="spacingAndGlyphs" style="font-size:9px;fill:#111;text-anchor:start">PEW RESEARCH CENTER</text>
<text class="f29" x="2615.8" y="1046">Infomation</text><text class="f29" x="2615.8" y="1082">Density</text></g>
<g id="c-col"><rect class="dt" x="2765.4" y="644" width="56.4" height="360" rx="10"/>
<rect class="bl" x="2773.7" y="658.4" width="38.7" height="39.2"/><rect class="p" x="2773.7" y="709.8" width="38.7" height="39.2"/><rect class="la" x="2773.7" y="759" width="38.7" height="39"/><rect class="y" x="2773.7" y="809.4" width="38.7" height="39.2"/><rect class="o" x="2773.7" y="858.4" width="38.7" height="39.2"/><rect class="l" x="2774.8" y="905.3" width="38.7" height="39.2"/><rect class="t" x="2774.8" y="952.7" width="38.7" height="39.1"/></g>
<g id="c-col2"><rect class="dt" x="2906.6" y="745.3" width="57" height="158" rx="10"/><rect class="p" x="2915" y="755.5" width="39.7" height="39.2"/><rect class="y" x="2915" y="803" width="39.7" height="39.4"/><rect class="t" x="2915" y="852" width="39.7" height="39.4"/></g>
<g id="c-output"><rect class="dt" x="3024.8" y="747.8" width="57" height="158.2" rx="10"/><rect class="p" x="3033" y="755.5" width="39.4" height="39.2"/><rect class="y" x="3033" y="803" width="39.4" height="39.4"/><rect class="t" x="3033" y="852" width="39.4" height="39.4"/></g>
<g id="c-guide"><text class="f26" x="2907.6" y="654">Guide</text></g>
<g id="c-number"><text class="f26" x="2907.6" y="1031">Sampling</text><text class="f26" x="2907.6" y="1062.4">Number</text></g>

<g id="connectors">
<path d="M792 476L890 142M792 606L888 960" fill="none" stroke="#000" stroke-width="1.8" stroke-dasharray="11 7"/>
<path class="a" d="M495 216V165"/>
<path class="a" d="M426.5 349V308"/><path class="a" d="M521 349V308"/><path class="a" d="M602.6 349V308"/><path class="a" d="M680.7 349V308"/><path class="a" d="M758.7 349V308"/>
<path class="a3" d="M826 930V308"/>
<path class="a" d="M521 476V436"/><path class="a" d="M602.6 476V436"/><path class="a" d="M680.7 476V436"/><path class="a" d="M758.7 476V436"/>
<path class="a" d="M426.5 642V436"/>
<path class="a" d="M521 642V607"/><path class="a" d="M602.6 642V607"/><path class="a" d="M680.7 642V607"/><path class="a" d="M758.7 642V607"/>
<path class="a" d="M426.5 756V730"/><path class="a" d="M521 756V730"/><path class="a" d="M602.6 756V730"/><path class="a" d="M680.7 756V730"/><path class="a" d="M758.7 756V730"/>
<path class="a" d="M206 692.5V777"/>
<path class="a3" d="M314 806H365"/>
<path class="a3" d="M1192 187.5V165"/>
<path class="a3" d="M1192 303V267"/>
<path class="c" style="stroke-width:3" d="M1011 328V303H1376V334"/>
<path class="a3" d="M1011 412V371"/>
<path class="a3" d="M1376 411V377"/>
<path class="a" style="marker-start:url(#ar)" d="M1123 467H1264"/>
<path class="c" style="stroke-width:3.5" d="M1192 568V467"/>
<path class="a3" d="M1097 658H1011V524"/>
<path class="a3" d="M1290 729H1376V523.5"/>
<path class="a3" d="M1194 787V762"/>
<path class="a" d="M1051 841H1083"/>
<path class="c" d="M1918.7 124.4H1942.6M1924 324.4H1949"/>
<path class="a" d="M1993 124.4H2022"/><path class="a" d="M1996 324.4H2022"/>
<path class="a" d="M2231.4 136.7H2315V164"/><path class="a" d="M2231.4 324.4H2315V298.6"/>
<path class="a" d="M2381.6 231.6H2429"/><path class="a" d="M2560.7 232H2679.5"/>
<path class="a" d="M1726 373V421H2727.6V390"/>
<path class="a" d="M2903 233H2968"/>
<g fill="none" stroke="#f0a44c" stroke-width="7"><path marker-end="url(#ao)" d="M2749 154.3L2854.6 185.8"/><path marker-end="url(#ao)" d="M2749 253.8L2855 233.9"/><path marker-end="url(#ao)" d="M2751.5 356.6L2855 282"/></g>
<path class="c" d="M1940.6 707.3H1957M1945 950.7H1963"/>
<path class="a" d="M2006.4 706H2028"/><path class="a" d="M2009 950H2028"/>
<path class="a" d="M2238 720.7H2286"/><path class="a" d="M2238 949.4H2286"/>
<path class="c" d="M2133 899.7V835.3H2353.7"/>
<path class="a" style="marker-start:url(#ar)" d="M2353.7 788V882.5"/>
<path class="a" d="M2403 725.7H2474"/><path class="a" d="M2419.6 949.4H2549.5"/>
<path class="a" d="M1740.6 1012V1114H2793.6V1005"/>
<path class="a" d="M2963.6 823.7H3023.5"/>
<g fill="none" stroke="#a86ffb" stroke-width="6"><path marker-end="url(#ap)" d="M2813.5 728.6L2914.4 774.7"/><path marker-end="url(#ap)" d="M2813.5 829L2913.4 823.7"/><path marker-end="url(#ap)" d="M2813.5 971.8L2914.4 873.9"/></g>
<g fill="none" stroke="#e6397f" stroke-width="4.5"><path marker-end="url(#ak)" d="M2714 645.3C2750 618 2835 618 2862 652C2884 680 2880 715 2873.6 750"/><path marker-end="url(#ak)" d="M2689.5 994C2730 1030 2800 1038 2860 1005C2895 985 2915 950 2926 917.5"/></g>
</g>
</svg>
